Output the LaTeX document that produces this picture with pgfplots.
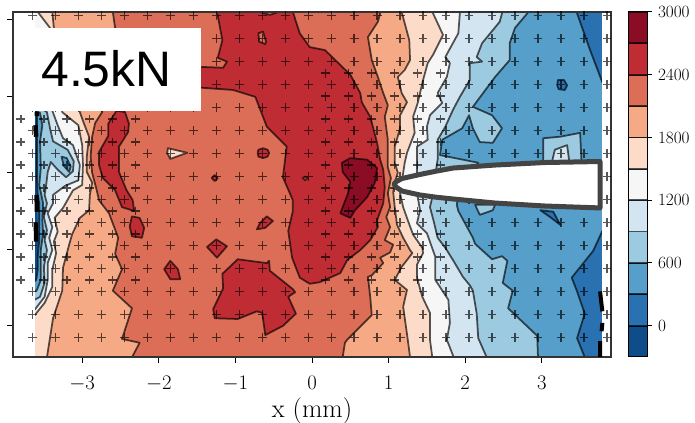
\documentclass[border=0pt]{standalone}
\usepackage{fontspec}
\usepackage{pgfplots}
\usepackage{pgfplotstable}
\pgfplotsset{compat=1.18}
\newfontfamily\arialfont{Liberation Sans}
\definecolor{b00}{HTML}{0F4C8A}
\definecolor{b03}{HTML}{2A71B2}
\definecolor{b06}{HTML}{569FCA}
\definecolor{b09}{HTML}{9CCAE1}
\definecolor{b12}{HTML}{D2E5F0}
\definecolor{b15}{HTML}{F6F6F6}
\definecolor{b18}{HTML}{FDDBC9}
\definecolor{b21}{HTML}{F5A985}
\definecolor{b24}{HTML}{DC6E57}
\definecolor{b27}{HTML}{BF2C34}
\definecolor{b30}{HTML}{8A0C25}
\definecolor{foil}{HTML}{444444}
\pgfplotstableread{
x
-3.65
-3.35
-3.05
-2.75
-2.45
-2.15
-1.85
-1.55
-1.25
-0.95
-0.65
-0.35
-0.05
0.25
0.55
0.85
1.15
1.45
1.75
2.05
2.35
2.65
2.95
3.25
3.55
3.85
}\maincols
\pgfplotstableread{
x
-3.80
-3.50
-3.20
-2.90
-2.60
-2.30
}\leftcols
\pgfplotstableread{
x
0.18
0.48
0.78
1.08
1.38
1.68
}\rightcols
\tikzset{
 cont/.style={draw=black,draw opacity=.66,line width=1.75bp,line join=round,no markers},
 cross/.style={only marks,mark=+,mark size=4.4bp,mark options={draw=black,draw opacity=.66,line width=1.3bp}}
}
\begin{document}
\begin{tikzpicture}
\path[use as bounding box] (0,0) rectangle (695bp,423bp);
\begin{axis}[
 at={(13bp,66bp)},anchor=south west,scale only axis,width=598bp,height=345bp,
 xmin=-3.903,xmax=3.903,ymin=-2.406,ymax=2.098,
 xtick={-3,-2,-1,0,1,2,3},ytick={-2,-1,0,1,2},yticklabels={},
 xtick pos=lower,ytick pos=left,tick align=outside,
 major tick length=6bp,
 tick style={black,line width=1bp},
 axis line style={black!80,line width=1.1bp},
 tick label style={font=\fontsize{21}{21}\selectfont},
 xticklabel style={yshift=-10bp},
 axis on top
]
\addplot[fill=b03,draw=none,no markers] coordinates {(-3.9,-2.6)(3.95,-2.6)(3.95,2.3)(-3.9,2.3)} -- cycle;
\addplot[fill=b00,draw=none,no markers] coordinates {(-3.7,0.8)(-3.59,0.8)(-3.59,-0.1)(-3.575,-1.2)(-3.6,-1.4)(-3.7,-1.5)} -- cycle;
% z > 300
\addplot[cont,fill=b06] coordinates {(-3.75,2.3)(-3.75,0.9)(-3.59,0.79)(-3.59,-0.10)(-3.58,-0.29)(-3.56,-0.40)(-3.56,-0.62)(-3.56,-0.88)(-3.58,-1.10)(-3.58,-1.27)(-3.60,-1.40)(-3.75,-1.53)(-3.75,-2.6)(3.56,-2.6)(3.56,-2.41)(3.46,-2.16)(3.56,-1.84)(3.46,-1.55)(3.39,-1.37)(3.67,-1.02)(3.79,-0.76)(3.96,-0.62)(3.96,1.08)(3.79,1.18)(3.63,1.60)(3.46,2.08)(3.39,2.3)} -- cycle;
% z > 600
\addplot[cont,fill=b09] coordinates {(-3.75,2.3)(-3.75,0.9)(-3.55,0.78)(-3.52,0.62)(-3.55,0.41)(-3.54,0.06)(-3.56,-0.16)(-3.51,-0.40)(-3.52,-0.62)(-3.51,-0.79)(-3.54,-1.01)(-3.54,-1.23)(-3.54,-1.40)(-3.59,-1.53)(-3.75,-1.62)(-3.75,-2.6)(2.95,-2.6)(2.95,-2.41)(2.94,-2.13)(2.56,-1.77)(2.62,-1.54)(2.49,-1.44)(2.55,-1.15)(2.48,-1.09)(2.35,-1.13)(2.13,-0.93)(2.10,-0.85)(1.91,-0.50)(1.89,-0.42)(1.93,-0.16)(2.17,0.13)(1.87,0.19)(1.67,0.23)(1.70,0.43)(1.96,0.58)(2.05,0.75)(2.10,0.58)(2.19,0.40)(2.36,0.39)(2.48,0.58)(2.35,0.75)(2.10,0.86)(2.39,1.25)(2.58,1.47)(2.58,1.69)(2.65,1.89)(2.81,2.08)(2.91,2.3)} -- cycle;
% z > 900
\addplot[cont,fill=b12] coordinates {(-3.75,2.3)(-3.75,1.0)(-3.46,0.79)(-3.42,0.58)(-3.38,0.41)(-3.19,0.30)(-3.11,0.15)(-3.12,0.02)(-3.21,-0.06)(-3.32,0.04)(-3.41,0.14)(-3.45,0.01)(-3.47,-0.16)(-3.49,-0.29)(-3.46,-0.40)(-3.50,-0.58)(-3.46,-0.75)(-3.49,-0.88)(-3.46,-1.01)(-3.50,-1.23)(-3.49,-1.44)(-3.55,-1.62)(-3.75,-1.73)(-3.75,-2.6)(2.28,-2.6)(2.28,-2.41)(2.17,-2.16)(2.15,-1.84)(2.10,-1.54)(2.06,-1.47)(1.97,-1.36)(1.84,-1.14)(1.74,-0.98)(1.64,-0.85)(1.59,-0.64)(1.54,-0.45)(1.57,-0.32)(1.62,0.04)(1.64,0.17)(1.64,0.43)(1.74,0.60)(1.84,0.82)(1.93,0.99)(2.06,1.21)(2.06,1.43)(2.22,1.45)(2.15,1.51)(2.22,1.69)(2.45,1.97)(2.48,2.08)(2.49,2.3)} -- cycle;
% z > 1200
\addplot[cont,fill=b15] coordinates {(-3.75,2.3)(-3.75,1.2)(-3.39,0.81)(-3.32,0.62)(-3.25,0.45)(-3.12,0.36)(-3.03,0.10)(-3.05,-0.10)(-3.22,-0.17)(-3.38,-0.29)(-3.38,-0.40)(-3.45,-0.53)(-3.39,-0.71)(-3.43,-0.85)(-3.39,-1.01)(-3.45,-1.18)(-3.45,-1.40)(-3.49,-1.62)(-3.62,-1.79)(-3.75,-1.90)(-3.75,-2.6)(1.85,-2.6)(1.85,-2.41)(1.76,-2.18)(1.80,-1.96)(1.78,-1.66)(1.61,-1.40)(1.61,-1.10)(1.50,-0.79)(1.37,-0.66)(1.41,-0.49)(1.38,-0.32)(1.37,-0.03)(1.37,0.17)(1.37,0.34)(1.51,0.43)(1.50,0.60)(1.54,0.75)(1.70,0.91)(1.64,1.04)(1.76,1.25)(1.80,1.43)(1.74,1.51)(1.91,1.82)(1.93,2.08)(1.93,2.3)} -- cycle;
% z > 1500
\addplot[cont,fill=b18] coordinates {(-3.62,2.3)(-3.58,2.10)(-3.42,1.89)(-3.26,0.79)(-3.05,0.62)(-3.00,0.36)(-2.99,0.10)(-3.00,-0.16)(-3.12,-0.23)(-3.25,-0.46)(-3.36,-0.59)(-3.32,-0.77)(-3.37,-0.90)(-3.34,-1.05)(-3.39,-1.27)(-3.39,-1.49)(-3.49,-1.70)(-3.62,-1.86)(-3.75,-1.99)(-3.75,-2.6)(1.57,-2.6)(1.57,-2.41)(1.54,-2.18)(1.54,-1.83)(1.44,-1.62)(1.37,-1.37)(1.37,-1.20)(1.45,-1.05)(1.44,-0.98)(1.32,-0.81)(1.25,-0.62)(1.19,-0.45)(1.15,-0.27)(1.21,0.13)(1.24,0.26)(1.34,0.52)(1.32,0.73)(1.38,0.91)(1.41,1.04)(1.45,1.21)(1.51,1.43)(1.58,1.54)(1.71,1.80)(1.58,2.08)(1.51,2.3)} -- cycle;
% z > 1800
\addplot[cont,fill=b21] coordinates {(-3.40,2.3)(-3.39,2.10)(-3.37,1.89)(-3.03,0.79)(-2.98,0.65)(-2.91,0.47)(-2.94,0.21)(-2.94,0.01)(-2.87,-0.13)(-2.90,-0.29)(-2.91,-0.49)(-3.03,-0.59)(-3.13,-0.80)(-3.17,-0.94)(-3.25,-1.24)(-3.26,-1.54)(-3.38,-1.90)(-3.46,-2.41)(-3.49,-2.6)(1.28,-2.6)(1.28,-2.41)(1.25,-2.18)(1.19,-1.75)(1.24,-1.53)(1.08,-1.40)(1.17,-1.23)(1.31,-1.05)(1.28,-1.01)(1.19,-0.85)(1.11,-0.68)(1.08,-0.45)(1.06,-0.25)(1.08,-0.13)(1.12,0.00)(1.08,0.13)(1.08,0.34)(1.15,0.58)(1.15,0.75)(1.24,0.92)(1.17,1.04)(1.12,1.25)(1.21,1.34)(1.28,1.47)(1.27,1.73)(1.17,2.10)(1.15,2.3)} -- cycle;
% z > 2100
\addplot[cont,fill=b24] coordinates {(-2.60,2.3)(-2.60,2.10)(-2.57,1.89)(-2.74,0.79)(-2.83,0.65)(-2.87,0.47)(-2.89,0.21)(-2.87,0.00)(-2.81,-0.23)(-2.78,-0.36)(-2.65,-0.53)(-2.53,-0.85)(-2.57,-1.06)(-2.48,-1.26)(-2.60,-1.54)(-2.35,-1.77)(-2.48,-2.17)(-2.25,-2.22)(-2.35,-2.41)(-2.38,-2.6)(0.40,-2.6)(0.40,-2.41)(0.43,-2.22)(0.46,-2.18)(0.59,-2.05)(0.78,-1.86)(0.76,-1.62)(0.73,-1.36)(0.78,-1.34)(0.93,-1.18)(0.89,-1.11)(1.02,-1.04)(1.06,-0.94)(0.95,-0.88)(1.02,-0.71)(0.97,-0.58)(1.02,-0.45)(0.99,-0.27)(1.03,-0.07)(0.99,0.07)(0.99,0.43)(0.95,0.73)(0.99,0.88)(0.93,1.04)(0.86,1.25)(0.78,1.47)(0.73,1.77)(0.86,1.97)(0.89,2.08)(0.91,2.3)} -- cycle;
% z > 2400
\addplot[cont,fill=b27] coordinates {(-1.24,2.3)(-1.24,2.10)(-1.17,1.73)(-1.23,1.50)(-1.11,1.45)(-1.16,1.37)(-1.42,1.38)(-1.85,1.34)(-1.85,1.13)(-1.45,1.11)(-1.03,1.08)(-0.74,0.99)(-0.59,0.60)(-0.33,0.34)(-0.38,-0.06)(-0.25,-0.36)(-0.25,-0.50)(-0.31,-0.76)(-0.26,-1.11)(-0.16,-1.37)(-0.03,-1.45)(0.10,-1.43)(0.37,-1.31)(0.46,-1.14)(0.63,-1.01)(0.76,-0.88)(0.86,-0.71)(0.85,-0.62)(0.93,-0.40)(0.95,-0.19)(0.93,0.04)(0.89,0.17)(0.85,0.39)(0.76,0.73)(0.65,0.92)(0.63,1.04)(0.50,1.28)(0.17,1.60)(-0.03,1.64)(-0.16,1.82)(-0.25,2.10)(-0.28,2.3)} -- cycle;
% z > 2700
\addplot[cont,fill=b30] coordinates {(0.39,0.13)(0.50,0.19)(0.72,0.17)(0.85,0.06)(0.82,-0.13)(0.72,-0.32)(0.56,-0.49)(0.50,-0.59)(0.37,-0.53)(0.47,-0.27)(0.50,-0.12)(0.40,0.01)} -- cycle;
% islands above 2400
\addplot[cont,fill=b27] coordinates {(-2.55,0.81)(-2.44,0.79)(-2.39,0.64)(-2.40,0.53)(-2.52,0.34)(-2.52,0.01)(-2.42,-0.23)(-2.34,-0.36)(-2.32,-0.50)(-2.48,-0.45)(-2.57,-0.23)(-2.73,-0.07)(-2.78,0.10)(-2.78,0.27)(-2.66,0.48)(-2.66,0.64)} -- cycle;
\addplot[cont,fill=b27] coordinates {(-2.35,-0.57)(-2.25,-0.59)(-2.19,-0.72)(-2.22,-0.85)(-2.35,-0.83)(-2.38,-0.70)} -- cycle;
\addplot[cont,fill=b27] coordinates {(-0.59,-0.57)(-0.51,-0.63)(-0.61,-0.72)(-0.72,-0.74)(-0.68,-0.66)} -- cycle;
\addplot[cont,fill=b27] coordinates {(-1.25,-0.87)(-1.11,-0.96)(-1.24,-1.11)(-1.37,-0.97)} -- cycle;
\addplot[cont,fill=b27] coordinates {(-1.85,-1.15)(-1.75,-1.26)(-1.72,-1.39)(-1.85,-1.39)(-1.93,-1.26)} -- cycle;
\addplot[cont,fill=b27] coordinates {(-0.97,-1.13)(-0.59,-1.18)(-0.56,-1.15)(-0.55,-1.28)(-0.25,-1.52)(-0.22,-1.56)(-0.31,-1.62)(-0.21,-1.84)(-0.38,-2.00)(-0.61,-2.12)(-0.65,-1.83)(-0.72,-1.81)(-0.97,-1.91)(-1.27,-1.90)(-1.29,-1.78)(-1.16,-1.51)(-1.17,-1.32)} -- cycle;
\addplot[cont,fill=b27] coordinates {(-0.64,0.32)(-0.58,0.30)(-0.56,0.26)(-0.58,0.21)(-0.64,0.19)(-0.70,0.21)(-0.71,0.26)(-0.70,0.30)} -- cycle;
\addplot[cont,fill=b27] coordinates {(-1.27,-0.03)(-1.23,-0.07)(-1.27,-0.11)(-1.31,-0.07)} -- cycle;
% small islands of lower values
\addplot[cont,fill=b18] coordinates {(-1.88,0.32)(-1.63,0.26)(-1.85,0.18)(-1.89,0.26)} -- cycle;
\addplot[cont,fill=b24] coordinates {(-0.09,-0.05)(-0.06,-0.07)(-0.09,-0.10)(-0.12,-0.07)} -- cycle;
\addplot[cont,fill=b24] coordinates {(-0.70,1.82)(-0.64,1.84)(-0.60,1.71)(-0.61,1.68)(-0.69,1.71)} -- cycle;
\addplot[cont,fill=b24] coordinates {(-0.65,2.3)(-0.65,2.09)(-0.55,2.06)(-0.46,2.09)(-0.46,2.3)} -- cycle;
\addplot[cont,fill=b03] coordinates {(3.21,1.21)(3.29,1.21)(3.33,1.14)(3.30,1.08)(3.22,1.09)(3.20,1.14)} -- cycle;
\addplot[cont,fill=b03] coordinates {(2.98,-0.49)(3.15,-0.51)(3.24,-0.68)(3.11,-0.58)} -- cycle;
\addplot[cont,fill=b09] coordinates {(3.02,0.10)(3.02,0.45)(3.24,0.47)(3.50,0.52)(3.52,0.10)} -- cycle;
\addplot[cont,fill=b12] coordinates {(3.13,0.13)(3.17,0.30)(3.33,0.36)(3.36,0.13)} -- cycle;
\addplot[cont,fill=b09] coordinates {(2.13,-0.42)(2.19,-0.55)(2.36,-0.49)(2.39,-0.42)} -- cycle;
\addplot[cont,fill=b06] coordinates {(-3.27,0.21)(-3.20,0.19)(-3.15,0.08)(-3.17,0.01)(-3.24,0.09)} -- cycle;
% no data beyond the measured strip
\addplot[fill=white,draw=none,no markers] coordinates {(-4,-2.7)(-3.616,-2.7)(-3.616,2.3)(-4,2.3)} -- cycle;
\addplot[fill=white,draw=none,no markers] coordinates {(3.79,-2.7)(4,-2.7)(4,2.3)(3.79,2.3)} -- cycle;
% measurement points
\pgfplotsinvokeforeach{2.05,1.75,1.45,1.15,0.85,0.55,0.25,-0.05,-0.35,-0.65,-0.95,-1.25,-1.55,-1.85,-2.15}{
 \addplot[cross] table[x index=0,y index=0,y expr=#1]{\maincols};
}
\pgfplotsinvokeforeach{0.70,0.40,0.10,-0.20,-0.50,-0.80,-1.10,-1.40}{
 \addplot[cross] table[x index=0,y index=0,y expr=#1]{\leftcols};
}
\pgfplotsinvokeforeach{1.30,1.00,0.70,0.40,0.10,-0.20,-0.50,-0.80,-1.10,-1.40}{
 \addplot[cross] table[x index=0,y index=0,y expr=#1]{\rightcols};
}
\end{axis}
% overlay: crack front lines and the notch lie above the measurement points
\begin{axis}[
 at={(13bp,66bp)},anchor=south west,scale only axis,width=598bp,height=345bp,
 xmin=-3.903,xmax=3.903,ymin=-2.406,ymax=2.098,hide axis
]
\addplot[black,line width=4.5bp,no markers,unbounded coords=jump] coordinates {(-3.59,0.79)(-3.59,0.74)(-3.6,nan)(-3.61,0.62)(-3.60,0.47)(-3.6,nan)(-3.595,-0.29)(-3.59,-0.51)(-3.6,nan)(-3.605,-0.65)(-3.60,-0.90)};
\addplot[black,line width=4bp,no markers,unbounded coords=jump] coordinates {(3.76,-1.55)(3.79,-1.81)(3.8,nan)(3.79,-1.96)(3.78,-2.07)(3.8,nan)(3.76,-2.20)(3.76,-2.45)};
\addplot[draw=foil,fill=white,line width=5bp,line join=round,no markers] coordinates {(1.07,-0.15)(1.10,-0.115)(1.175,-0.076)(1.29,-0.05)(1.41,-0.023)(1.62,0.02)(1.841,0.061)(2.389,0.10)(3.042,0.133)(3.76,0.146)(3.76,-0.46)(3.042,-0.435)(2.389,-0.396)(1.841,-0.343)(1.62,-0.32)(1.41,-0.291)(1.29,-0.265)(1.175,-0.239)(1.10,-0.19)} -- cycle;
\end{axis}
% colour bar
\begin{axis}[
 at={(628bp,66bp)},anchor=south west,scale only axis,width=19bp,height=345bp,
 xmin=0,xmax=1,ymin=-300,ymax=3000,
 xtick=\empty,ytick={0,600,1200,1800,2400,3000},
 ytick pos=right,yticklabel pos=right,tick align=outside,
 major tick length=5bp,
 tick style={black,line width=1bp},
 axis line style={black,line width=1bp},
 yticklabel style={font=\fontsize{17}{17}\selectfont,/pgf/number format/1000 sep={},xshift=2.5bp},
 axis on top
]
\addplot[cont,fill=b00] coordinates {(-1,-300)(2,-300)(2,0)(-1,0)} -- cycle;
\addplot[cont,fill=b03] coordinates {(-1,0)(2,0)(2,300)(-1,300)} -- cycle;
\addplot[cont,fill=b06] coordinates {(-1,300)(2,300)(2,600)(-1,600)} -- cycle;
\addplot[cont,fill=b09] coordinates {(-1,600)(2,600)(2,900)(-1,900)} -- cycle;
\addplot[cont,fill=b12] coordinates {(-1,900)(2,900)(2,1200)(-1,1200)} -- cycle;
\addplot[cont,fill=b15] coordinates {(-1,1200)(2,1200)(2,1500)(-1,1500)} -- cycle;
\addplot[cont,fill=b18] coordinates {(-1,1500)(2,1500)(2,1800)(-1,1800)} -- cycle;
\addplot[cont,fill=b21] coordinates {(-1,1800)(2,1800)(2,2100)(-1,2100)} -- cycle;
\addplot[cont,fill=b24] coordinates {(-1,2100)(2,2100)(2,2400)(-1,2400)} -- cycle;
\addplot[cont,fill=b27] coordinates {(-1,2400)(2,2400)(2,2700)(-1,2700)} -- cycle;
\addplot[cont,fill=b30] coordinates {(-1,2700)(2,2700)(2,3000)(-1,3000)} -- cycle;
\end{axis}
\node[fill=white,inner sep=0pt,minimum width=182bp,minimum height=83bp] at (110bp,353.5bp) {};
\node[inner sep=0pt,anchor=base] at (106.5bp,336bp) {\fontsize{50}{50}\arialfont 4.5kN};
\node[inner sep=0pt,anchor=base] at (312bp,6bp) {\fontsize{26.5}{26.5}\selectfont x (mm)};
\end{tikzpicture}
\end{document}
